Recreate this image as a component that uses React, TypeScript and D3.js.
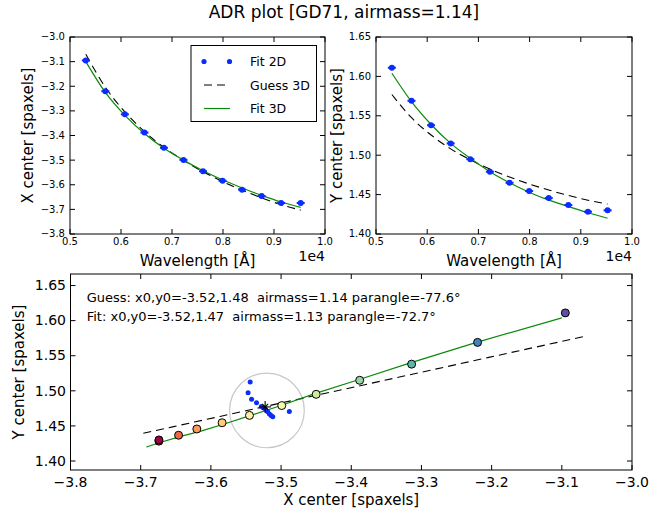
import React from 'react';
import * as d3 from 'd3';

// ---------------- data ----------------
const wavelengths = [5310, 5693, 6076, 6459, 6842, 7225, 7608, 7991, 8374, 8757, 9140, 9523];
const fit2dX = [-3.095, -3.220, -3.314, -3.388, -3.450, -3.499, -3.545, -3.584, -3.620, -3.646, -3.674, -3.674];
const fit2dY = [1.611, 1.569, 1.538, 1.515, 1.495, 1.479, 1.465, 1.4545, 1.4456, 1.4367, 1.4283, 1.430];
const guessX = [-3.070, -3.204, -3.304, -3.384, -3.448, -3.501, -3.547, -3.587, -3.622, -3.653, -3.681, -3.703];
const guessY = [1.577, 1.5476, 1.5256, 1.5080, 1.4940, 1.4824, 1.4723, 1.4635, 1.4558, 1.4490, 1.4429, 1.438];
const fitX = [-3.100, -3.225, -3.318, -3.392, -3.452, -3.500, -3.543, -3.580, -3.613, -3.643, -3.670, -3.692];
const fitY = [1.604, 1.568, 1.539, 1.515, 1.496, 1.479, 1.465, 1.453, 1.443, 1.435, 1.427, 1.420];
const residX = [-3.544, -3.547, -3.542, -3.535, -3.528, -3.5255, -3.522, -3.519, -3.5166, -3.5142, -3.5118, -3.4882];
const residY = [1.5124, 1.4971, 1.4881, 1.4829, 1.4777, 1.476, 1.4739, 1.470, 1.4671, 1.4649, 1.4629, 1.4706];
const guessCenter = [-3.5227, 1.4771];
const fitCenter = [-3.5201, 1.4721];
const fitRadius = 0.0532;

const xTicksTop = [5000, 6000, 7000, 8000, 9000, 10000];
const xTickLabelsTop = ['0.5', '0.6', '0.7', '0.8', '0.9', '1.0'];
const yTicksTL = [-3.8, -3.7, -3.6, -3.5, -3.4, -3.3, -3.2, -3.1, -3.0];
const yTickLabelsTL = ['−3.8', '−3.7', '−3.6', '−3.5', '−3.4', '−3.3', '−3.2', '−3.1', '−3.0'];
const yTicksY = [1.40, 1.45, 1.50, 1.55, 1.60, 1.65];
const yTickLabelsY = ['1.40', '1.45', '1.50', '1.55', '1.60', '1.65'];
const xTicksB = [-3.8, -3.7, -3.6, -3.5, -3.4, -3.3, -3.2, -3.1, -3.0];
const xTickLabelsB = ['−3.8', '−3.7', '−3.6', '−3.5', '−3.4', '−3.3', '−3.2', '−3.1', '−3.0'];

const title = 'ADR plot [GD71, airmass=1.14]';
const guessText = 'Guess: x0,y0=-3.52,1.48  airmass=1.14 parangle=-77.6°';
const fitText = 'Fit: x0,y0=-3.52,1.47  airmass=1.13 parangle=-72.7°';
const legendLabels = ['Fit 2D', 'Guess 3D', 'Fit 3D'];

// ---------------- style ----------------
const FONT = "'DejaVu Sans', sans-serif";
const BLUE = '#0a2cff';
const GREEN = '#0a8a0a';
const DASH = '8,5';

function Frame(props: {
  x0: number; x1: number; y0: number; y1: number;
  xs: (v: number) => number; ys: (v: number) => number;
  xt: number[]; xl: string[]; yt: number[]; yl: string[];
  fs: number; xLabelY: number; yLabelX: number;
}) {
  const { x0, x1, y0, y1, xs, ys, xt, xl, yt, yl, fs, xLabelY, yLabelX } = props;
  const tl = 5;
  return (
    <g>
      {xt.map((v, i) => (
        <g key={'x' + i}>
          <line x1={xs(v)} x2={xs(v)} y1={y1} y2={y1 - tl} stroke="#000" />
          <line x1={xs(v)} x2={xs(v)} y1={y0} y2={y0 + tl} stroke="#000" />
          <text x={xs(v)} y={xLabelY} fontSize={fs} textAnchor="middle" fontFamily={FONT}>{xl[i]}</text>
        </g>
      ))}
      {yt.map((v, i) => (
        <g key={'y' + i}>
          <line x1={x0} x2={x0 + tl} y1={ys(v)} y2={ys(v)} stroke="#000" />
          <line x1={x1} x2={x1 - tl} y1={ys(v)} y2={ys(v)} stroke="#000" />
          <text x={yLabelX} y={ys(v)} dy="0.34em" fontSize={fs} textAnchor="end" fontFamily={FONT}>{yl[i]}</text>
        </g>
      ))}
      <rect x={x0} y={y0} width={x1 - x0} height={y1 - y0} fill="none" stroke="#000" strokeWidth={1} />
    </g>
  );
}

function ErrDot({ x, y }: { x: number; y: number }) {
  return (
    <g>
      <line x1={x - 4} x2={x + 4} y1={y} y2={y} stroke={BLUE} strokeWidth={2} />
      <circle cx={x} cy={y} r={3} fill={BLUE} />
    </g>
  );
}

export default function App() {
  const TL = { x0: 70, x1: 325, y0: 37, y1: 234 };
  const TR = { x0: 376, x1: 632, y0: 37, y1: 234 };
  const B = { x0: 70.5, x1: 632, y0: 274, y1: 470 };

  const xTL = d3.scaleLinear().domain([5000, 10000]).range([TL.x0, TL.x1]);
  const yTL = d3.scaleLinear().domain([-3.8, -3.0]).range([TL.y1, TL.y0]);
  const xTR = d3.scaleLinear().domain([5000, 10000]).range([TR.x0, TR.x1]);
  const yTR = d3.scaleLinear().domain([1.40, 1.65]).range([TR.y1, TR.y0]);
  const pxPerUnit = (B.x1 - B.x0) / 0.8;
  const yBot = 1.40 - 9 / pxPerUnit;
  const yTop = yBot + (B.y1 - B.y0) / pxPerUnit;
  const xB = d3.scaleLinear().domain([-3.8, -3.0]).range([B.x0, B.x1]);
  const yB = d3.scaleLinear().domain([yBot, yTop]).range([B.y1, B.y0]);

  const curve = (xsc: any, ysc: any, vals: number[]) =>
    d3.line<number>().x((_, i) => xsc(wavelengths[i])).y((v) => ysc(v)).curve(d3.curveMonotoneX)(vals) || '';
  const lineB = (xv: number[], yv: number[]) =>
    d3.line<number>().x((v) => xB(v)).y((_, i) => yB(yv[i]))(xv) || '';

  const lmin = d3.min(wavelengths)!;
  const lmax = d3.max(wavelengths)!;
  const col = (l: number) => d3.interpolateSpectral((lmax - l) / (lmax - lmin));

  const star = [xB(guessCenter[0]), yB(guessCenter[1])];

  return (
    <svg width={652} height={513} style={{ position: 'absolute', left: 0, top: 0, background: '#fff' }}>
      <rect x={0} y={0} width={652} height={513} fill="#fff" />
      <text x={344} y={18} fontSize={17} textAnchor="middle" fontFamily={FONT}>{title}</text>

      {/* ---- top-left ---- */}
      <path d={curve(xTL, yTL, guessX)} fill="none" stroke="#000" strokeDasharray={DASH} strokeWidth={1.1} />
      <path d={curve(xTL, yTL, fitX)} fill="none" stroke={GREEN} strokeWidth={1.2} />
      {fit2dX.map((v, i) => <ErrDot key={i} x={xTL(wavelengths[i])} y={yTL(v)} />)}
      <Frame {...TL} xs={xTL} ys={yTL} xt={xTicksTop} xl={xTickLabelsTop} yt={yTicksTL} yl={yTickLabelsTL}
        fs={10} xLabelY={245} yLabelX={65} />
      <text x={197.5} y={266} fontSize={15} textAnchor="middle" fontFamily={FONT}>Wavelength [Å]</text>
      <text x={325} y={261} fontSize={14} textAnchor="end" fontFamily={FONT}>1e4</text>
      <text transform={`translate(33,${(TL.y0 + TL.y1) / 2}) rotate(-90)`} fontSize={15} textAnchor="middle" fontFamily={FONT}>X center [spaxels]</text>

      {/* legend */}
      <g>
        <rect x={191} y={45.5} width={125.5} height={76} fill="#fff" stroke="#000" />
        <circle cx={204} cy={61.5} r={2.6} fill={BLUE} />
        <circle cx={229.5} cy={61.5} r={2.6} fill={BLUE} />
        <line x1={204} x2={230} y1={85} y2={85} stroke="#000" strokeDasharray={DASH} strokeWidth={1.1} />
        <line x1={204} x2={230} y1={108.5} y2={108.5} stroke={GREEN} strokeWidth={1.2} />
        {legendLabels.map((t, i) => (
          <text key={t} x={250} y={61.5 + i * 23.5} dy="0.36em" fontSize={12.5} fontFamily={FONT}>{t}</text>
        ))}
      </g>

      {/* ---- top-right ---- */}
      <path d={curve(xTR, yTR, guessY)} fill="none" stroke="#000" strokeDasharray={DASH} strokeWidth={1.1} />
      <path d={curve(xTR, yTR, fitY)} fill="none" stroke={GREEN} strokeWidth={1.2} />
      {fit2dY.map((v, i) => <ErrDot key={i} x={xTR(wavelengths[i])} y={yTR(v)} />)}
      <Frame {...TR} xs={xTR} ys={yTR} xt={xTicksTop} xl={xTickLabelsTop} yt={yTicksY} yl={yTickLabelsY}
        fs={10} xLabelY={245} yLabelX={371} />
      <text x={504} y={266} fontSize={15} textAnchor="middle" fontFamily={FONT}>Wavelength [Å]</text>
      <text x={632} y={261} fontSize={14} textAnchor="end" fontFamily={FONT}>1e4</text>
      <text transform={`translate(342,${(TR.y0 + TR.y1) / 2}) rotate(-90)`} fontSize={15} textAnchor="middle" fontFamily={FONT}>Y center [spaxels]</text>

      {/* ---- bottom ---- */}
      <circle cx={xB(fitCenter[0])} cy={yB(fitCenter[1])} r={fitRadius * pxPerUnit} fill="none" stroke="#c8c8c8" strokeWidth={1.2} />
      <path d={lineB(guessX, guessY)} fill="none" stroke="#000" strokeDasharray={DASH} strokeWidth={1.1} />
      <path d={lineB(fitX, fitY)} fill="none" stroke={GREEN} strokeWidth={1.2} />
      {fit2dX.map((v, i) => (
        <circle key={i} cx={xB(v)} cy={yB(fit2dY[i])} r={4} fill={col(wavelengths[i])} stroke="#000" strokeWidth={1} />
      ))}
      {residX.map((v, i) => (
        <circle key={'r' + i} cx={xB(v)} cy={yB(residY[i])} r={2.5} fill={BLUE} />
      ))}
      <g stroke="#000" strokeWidth={1.1}>
        <line x1={star[0] - 6} x2={star[0] + 6} y1={star[1]} y2={star[1]} />
        <line x1={star[0]} x2={star[0]} y1={star[1] - 6} y2={star[1] + 6} />
        <line x1={star[0] - 3} x2={star[0] + 3} y1={star[1] - 3} y2={star[1] + 3} />
        <line x1={star[0] - 3} x2={star[0] + 3} y1={star[1] + 3} y2={star[1] - 3} />
      </g>
      <Frame {...B} xs={xB} ys={yB} xt={xTicksB} xl={xTickLabelsB} yt={yTicksY} yl={yTickLabelsY}
        fs={14} xLabelY={487} yLabelX={66} />
      <text x={(B.x0 + B.x1) / 2} y={505} fontSize={15} textAnchor="middle" fontFamily={FONT}>X center [spaxels]</text>
      <text transform={`translate(24,${(B.y0 + B.y1) / 2}) rotate(-90)`} fontSize={15} textAnchor="middle" fontFamily={FONT}>Y center [spaxels]</text>
      <text x={86.7} y={301.5} fontSize={13} fontFamily={FONT} style={{ whiteSpace: 'pre' }}>{guessText}</text>
      <text x={86.7} y={321} fontSize={13} fontFamily={FONT} style={{ whiteSpace: 'pre' }}>{fitText}</text>
    </svg>
  );
}
